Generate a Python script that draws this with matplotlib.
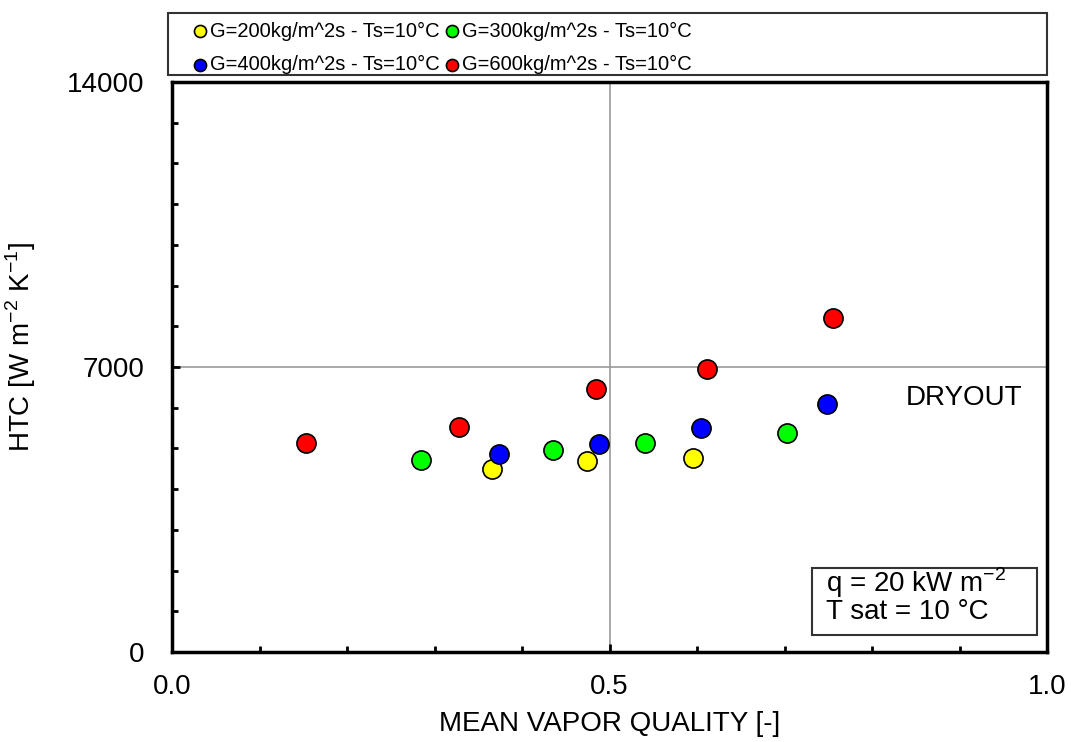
import numpy as np
import matplotlib.pyplot as plt
from matplotlib.ticker import MultipleLocator
from matplotlib.patches import Rectangle

plt.rcParams['font.family'] = ['Liberation Sans', 'DejaVu Sans']
plt.rcParams['mathtext.fontset'] = 'custom'
plt.rcParams['mathtext.rm'] = 'Liberation Sans'

# dados
x_200 = [0.366, 0.474, 0.595]
y_200 = [4487, 4692, 4757]
x_300 = [0.285, 0.435, 0.540, 0.703]
y_300 = [4716, 4962, 5142, 5380]
x_400 = [0.374, 0.488, 0.605, 0.749]
y_400 = [4856, 5101, 5494, 6084]
x_600 = [0.153, 0.328, 0.485, 0.611, 0.755]
y_600 = [5134, 5535, 6453, 6960, 8212]

rotulos = ["G=200kg/m^2s - Ts=10°C", "G=300kg/m^2s - Ts=10°C",
           "G=400kg/m^2s - Ts=10°C", "G=600kg/m^2s - Ts=10°C"]
cores = ["#ffff00", "#00ff00", "#0000ff", "#ff0000"]

fig = plt.figure(figsize=(10.71, 7.42), dpi=100)
ax = fig.add_axes([0.1606, 0.1213, 0.817, 0.7682])

series = [(x_200, y_200), (x_300, y_300), (x_400, y_400), (x_600, y_600)]
handles = []
for (xs, ys), cor, rot in zip(series, cores, rotulos):
    h = ax.scatter(xs, ys, s=190, c=cor, edgecolors="black", linewidths=1.2,
                   label=rot, zorder=3)
    handles.append(h)

ax.set_xlim(0, 1)
ax.set_ylim(0, 14000)
ax.xaxis.set_major_locator(MultipleLocator(0.5))
ax.xaxis.set_minor_locator(MultipleLocator(0.1))
ax.yaxis.set_major_locator(MultipleLocator(7000))
ax.yaxis.set_minor_locator(MultipleLocator(1000))
ax.xaxis.set_major_formatter(plt.FuncFormatter(lambda v, p: f"{v:.1f}"))
ax.yaxis.set_major_formatter(plt.FuncFormatter(lambda v, p: f"{int(v)}"))
ax.tick_params(which="both", direction="in", width=2, labelsize=20)
ax.tick_params(which="major", length=6)
ax.tick_params(which="minor", length=4)
ax.tick_params(axis="x", which="major", pad=16)
ax.tick_params(axis="y", which="major", pad=20)
ax.grid(True, which="major", color="#999999", linewidth=1.2)
for s in ax.spines.values():
    s.set_linewidth(2.5)

ax.set_xlabel("MEAN VAPOR QUALITY [-]", fontsize=20, labelpad=8)
ax.set_ylabel("HTC [W m$^{-2}$ K$^{-1}$]", fontsize=20)
ax.yaxis.set_label_coords(-0.153, 0.535)

ax.text(0.839, 6240, "DRYOUT", fontsize=20, va="center")

# caixa com condicoes
ax.add_patch(Rectangle((0.7314, 0.0298), 0.2572, 0.1176, transform=ax.transAxes,
                       fc="white", ec="#333333", lw=1.5, zorder=4))
ax.text(0.7474, 0.121, "q = 20 kW m$^{-2}$", transform=ax.transAxes,
        fontsize=20, va="center", zorder=5)
ax.text(0.7474, 0.070, "T sat = 10 °C", transform=ax.transAxes,
        fontsize=20, va="center", zorder=5)

# legenda em duas colunas com moldura
fig.add_artist(Rectangle((0.1569, 0.8989), 0.8207, 0.0836, transform=fig.transFigure,
                         fc="white", ec="#333333", lw=1.5))
opts = dict(loc="upper left", fontsize=14.5, markerscale=0.63, handletextpad=0.1,
            handlelength=0.8, borderaxespad=0, borderpad=0, labelspacing=0.72,
            frameon=False)
fig.legend([handles[0], handles[2]], [rotulos[0], rotulos[2]],
           bbox_to_anchor=(192 / 1071, 0.971), **opts)
fig.legend([handles[1], handles[3]], [rotulos[1], rotulos[3]],
           bbox_to_anchor=(444 / 1071, 0.971), **opts)

fig.savefig("out.png", dpi=100)
